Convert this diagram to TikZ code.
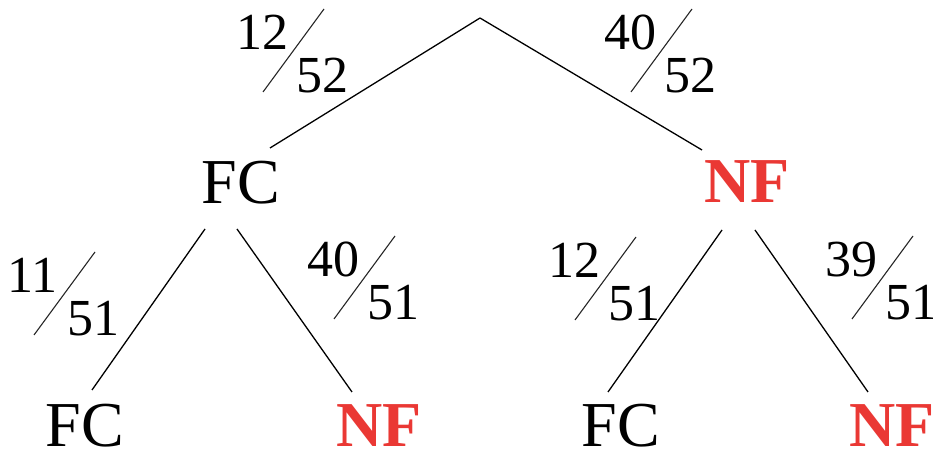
\documentclass[tikz,border=0pt]{standalone}
\usepackage{fontspec}
\setmainfont{Liberation Serif}
\definecolor{nfred}{RGB}{234,56,52}
\tikzset{
  lbl/.style={anchor=base, inner sep=0pt, font=\fontsize{32}{38}\selectfont},
  fc/.style={lbl, text=black},
  nf/.style={lbl, text=nfred, font=\fontsize{32}{38}\selectfont\bfseries},
  fracnum/.style={anchor=base west, inner sep=0pt, font=\fontsize{26}{31}\selectfont},
  branch/.style={line width=0.65pt, black},
  slash/.style={line width=0.55pt, black!85},
}
% slanted fraction: name, box-left x, baseline y, numerator, denominator
\newcommand{\slfrac}[5]{%
  \node[fracnum] (#1n) at (#2,#3) {#4};
  \node[fracnum] (#1d) at ([shift={(60,43)}]#1n.base west) {#5};
  \draw[slash] ([shift={(27,42)}]#1n.base west) -- ([shift={(88,-41)}]#1n.base west);
}
\begin{document}
\begin{tikzpicture}[x=0.5pt,y=-0.5pt]
  \useasboundingbox (0,0) rectangle (933,453);

  % tree nodes
  \coordinate (root) at (480,18);
  \node[fc] (fcA) at (241,204) {FC};
  \node[nf] (nfA) at (747,203) {NF};
  \node[fc] (fcB) at (85,447) {FC};
  \node[nf] (nfB) at (379,447) {NF};
  \node[fc] (fcC) at (621,447) {FC};
  \node[nf] (nfC) at (892,447) {NF};

  % branches
  \draw[branch] (root) -- ([shift={(29,-56)}]fcA.base);
  \draw[branch] (root) -- ([shift={(-45,-53)}]nfA.base);
  \draw[branch] ([shift={(-36,25)}]fcA.base) -- ([shift={(7,-57)}]fcB.base);
  \draw[branch] ([shift={(-4,25)}]fcA.base) -- ([shift={(-27,-55)}]nfB.base);
  \draw[branch] ([shift={(-25,27)}]nfA.base) -- ([shift={(-13,-55)}]fcC.base);
  \draw[branch] ([shift={(8,27)}]nfA.base) -- ([shift={(-24,-55)}]nfC.base);

  % branch probabilities
  \slfrac{pa}{236}{50}{12}{52}
  \slfrac{pb}{604}{50}{40}{52}
  \slfrac{pc}{7}{293}{11}{51}
  \slfrac{pd}{307}{277}{40}{51}
  \slfrac{pe}{548}{278}{12}{51}
  \slfrac{pf}{825}{277}{39}{51}
\end{tikzpicture}
\end{document}
